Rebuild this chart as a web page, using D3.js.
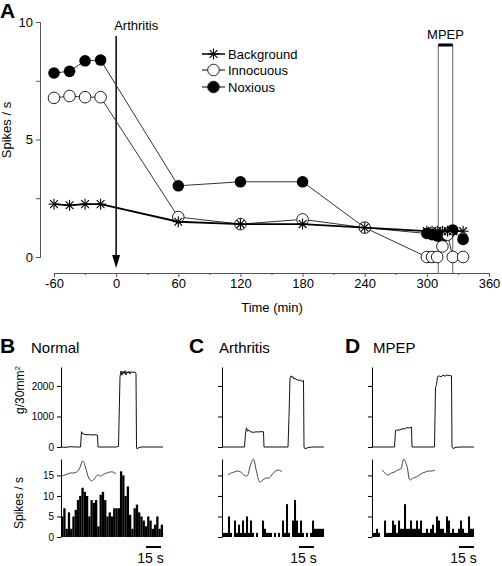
<!DOCTYPE html>
<html><head><meta charset="utf-8">
<script src="https://cdn.jsdelivr.net/npm/d3@7"></script>
<style>
body{margin:0;background:#fff}
svg{display:block}
text{font-family:"Liberation Sans",Arial,sans-serif;fill:#000}
</style>
</head><body>
<svg id="c" width="502" height="566"></svg>
<script>
// ---------- Panel A data ----------
const times      = [-60,-45,-30,-15,60,120,180,240,300,305,310,315,320,325,335];
const background = [2.25,2.2,2.25,2.25,1.5,1.4,1.4,1.25,1.1,1.1,1.1,1.1,1.1,1.1,1.1];
const innocuous  = [6.77,6.85,6.8,6.8,1.7,1.4,1.6,1.25,0,0,0,0.45,0.95,0,0];
const noxious    = [7.83,7.9,8.35,8.38,3.03,3.2,3.2,1.25,1.0,0.95,0.9,0.85,0.95,1.15,0.75];
const xTicks = [-60,0,60,120,180,240,300,360];
const yTicks = [0,5,10];
const arthritisTime = 0;
const mpepWindow = [311,325];

// ---------- Panels B, C, D data ----------
const panelNames = ["Normal","Arthritis","MPEP"];
const panelLetters = ["B","C","D"];
const forceTicks = [0,1000,2000];
const spikeTicks = [0,5,10,15];
// force traces: [time s, g/30mm2]
const forceB = [[0,0],[5,-10],[10,10],[15,0],[19.5,0],[20.5,500],[22,430],[25,400],[28,405],[31,395],[34,400],[36.5,390],[37,0],[45,0],[55,0],[57.5,20],[59,2300],[60,2490],[61,2350],[62,2480],[63,2400],[64,2500],[65,2360],[66,2470],[67,2420],[68,2480],[69,2390],[70,2470],[72,2440],[74,2460],[75,2400],[75.5,0],[76,-60],[78,-20],[80,0],[102,0]];
const forceC = [[0,0],[10,0],[22.5,0],[23.5,450],[24.5,630],[25.5,520],[27,560],[28,500],[30,490],[32,480],[34,500],[36,490],[38,500],[41.5,500],[42,0],[50,0],[66,0],[67,1000],[68,2250],[69,2330],[70,2280],[71,2300],[72,2220],[73,2250],[75,2200],[77,2180],[78,2200],[80,2150],[81.5,2180],[82,0],[83,-60],[86,-20],[90,0],[102,0]];
const forceD = [[0,0],[22.5,0],[23.5,540],[25,560],[27,550],[29,580],[31,600],[33,590],[35,640],[37,620],[39.5,650],[40,0],[50,0],[62.5,0],[63.5,1950],[64.5,2050],[65.5,2300],[67,2330],[69,2300],[71,2350],[73,2320],[75,2360],[77,2340],[79.5,2330],[80,0],[81,-50],[84,-10],[88,0],[102,0]];
// spike histograms (spikes/s per bin)
const spikesB = [5,7,2,6,2,5,6.6,9,10,12,11,10,5,9,8.3,9,2.6,10.3,11,9,5,6,5,7,7,7,16,15,10,12.3,5.4,2,7,7.9,6,5,4,2.6,5,4,2,3,5,2,3];
const spikesC = [1,1,1,5,1,0,4,1,3,1,4,1,5,1,4,1,0,1,0,0,4,2,1,1,1,0,1,0,1,0,4,1,8,1,0,4,9,4,1,4,1,0,1,0,1,4,2,2,2,2,2];
const spikesD = [1,1,2,1,0,0,4,1,1,1,4,3,1,4,2,2,8,2,2,4,2,2,4,2,4,1,1,2,1,2,3,1,5,4,2,2,1,5,4,1,2,1,1,2,4,2,1,1,5,2,2];
// spike waveform insets (arbitrary units)
const waveB = [0,1,2,3,3,4,8,15,8,-2,-5,-2,1,0,2,3,4,4,2];
const waveC = [1,3,4,5,4,1,0,10,17,4,-6,-4,-2,-2,2,5,6,4];
const waveD = [6,3,1,3,4,6,7,17,10,-4,-2,-1,1,3,4,5,5,6];
const scaleBarStart = [85,77,87];
const scaleBarLen = 15;

// ---------- drawing ----------
const svg = d3.select("#c");
const axisCol = "#555";
const plain = d => String(d);

// Panel A
const x = d3.scaleLinear().domain([-60,360]).range([54,489]);
const y = d3.scaleLinear().domain([0,10]).range([257,22]);

const gx = svg.append("g").attr("transform","translate(0,273)");
gx.call(d3.axisBottom(x).tickValues(xTicks).tickSize(4).tickSizeOuter(0).tickFormat(plain));
gx.append("g").call(d3.axisBottom(x).tickValues(d3.range(-30,360,60)).tickSize(2).tickFormat(""));
gx.selectAll("path,line").attr("stroke",axisCol);
gx.selectAll("text").attr("font-size",13).attr("dy","0.6em");

const gy = svg.append("g").attr("transform","translate(40,0)");
gy.call(d3.axisLeft(y).tickValues(yTicks).tickSize(4).tickSizeOuter(0).tickFormat(plain));
gy.append("g").call(d3.axisLeft(y).tickValues([2.5,7.5]).tickSize(4).tickFormat(""));
gy.selectAll("path,line").attr("stroke",axisCol);
gy.selectAll("text").attr("font-size",13);

svg.append("text").attr("x",272).attr("y",312).attr("text-anchor","middle").attr("font-size",13).text("Time (min)");
svg.append("text").attr("transform","translate(11,130) rotate(-90)").attr("text-anchor","middle").attr("font-size",13).text("Spikes / s");
svg.append("text").attr("x",0).attr("y",18).attr("font-size",21).attr("font-weight","bold").text("A");

// MPEP window
svg.append("line").attr("x1",x(mpepWindow[0])).attr("x2",x(mpepWindow[0])).attr("y1",45).attr("y2",273).attr("stroke","#666").attr("stroke-width",1);
svg.append("line").attr("x1",x(mpepWindow[1])).attr("x2",x(mpepWindow[1])).attr("y1",45).attr("y2",273).attr("stroke","#666").attr("stroke-width",1);
svg.append("line").attr("x1",x(mpepWindow[0])).attr("x2",x(mpepWindow[1])).attr("y1",45).attr("y2",45).attr("stroke","#000").attr("stroke-width",3);
svg.append("text").attr("x",(x(mpepWindow[0])+x(mpepWindow[1]))/2).attr("y",39).attr("text-anchor","middle").attr("font-size",13).text("MPEP");

// Arthritis arrow
const ax = x(arthritisTime);
svg.append("line").attr("x1",ax).attr("x2",ax).attr("y1",36).attr("y2",258).attr("stroke","#000").attr("stroke-width",1.5);
svg.append("path").attr("d",`M${ax-4},${255}L${ax+4},${255}L${ax},${268}Z`).attr("fill","#000");
svg.append("text").attr("x",ax-2).attr("y",30).attr("font-size",13).text("Arthritis");

const line = d3.line().x(d=>x(d[0])).y(d=>y(d[1]));
const zip = arr => times.map((t,i)=>[t,arr[i]]);

function star(g,cx,cy,r){
  for(const a of [0,45,90,135]){
    const rad=a*Math.PI/180;
    g.append("line").attr("x1",cx-r*Math.cos(rad)).attr("y1",cy-r*Math.sin(rad))
     .attr("x2",cx+r*Math.cos(rad)).attr("y2",cy+r*Math.sin(rad))
     .attr("stroke","#000").attr("stroke-width",1.1);
  }
}

// noxious (bottom), innocuous, background (top)
svg.append("path").datum(zip(noxious)).attr("d",line).attr("fill","none").attr("stroke","#333").attr("stroke-width",1);
svg.append("g").selectAll("circle").data(zip(noxious)).join("circle")
  .attr("cx",d=>x(d[0])).attr("cy",d=>y(d[1])).attr("r",5.8).attr("fill","#000");
svg.append("path").datum(zip(innocuous)).attr("d",line).attr("fill","none").attr("stroke","#333").attr("stroke-width",1);
svg.append("g").selectAll("circle").data(zip(innocuous)).join("circle")
  .attr("cx",d=>x(d[0])).attr("cy",d=>y(d[1])).attr("r",5.8).attr("fill","#fff").attr("stroke","#222").attr("stroke-width",1);
svg.append("path").datum(zip(background)).attr("d",line).attr("fill","none").attr("stroke","#000").attr("stroke-width",1.8);
const gs = svg.append("g");
zip(background).forEach(d=>star(gs,x(d[0]),y(d[1]),5.5));

// legend
const legend = [["Background","star"],["Innocuous","open"],["Noxious","filled"]];
const legY = [54,70,87];
legend.forEach((l,i)=>{
  const ly = legY[i];
  svg.append("line").attr("x1",202).attr("x2",225).attr("y1",ly).attr("y2",ly).attr("stroke","#000").attr("stroke-width",l[1]==="star"?1.5:1);
  if(l[1]==="star") star(svg,213.5,ly,5.5);
  else svg.append("circle").attr("cx",213.5).attr("cy",ly).attr("r",5.8).attr("fill",l[1]==="open"?"#fff":"#000").attr("stroke","#222");
  svg.append("text").attr("x",228).attr("y",ly+5).attr("font-size",13).text(l[0]);
});

// Panels B, C, D
const panelX = [61,222,372];
const forces = [forceB,forceC,forceD];
const spikes = [spikesB,spikesC,spikesD];
const waves = [waveB,waveC,waveD];
const waveSpan = [[0.5,55],[6,60],[10,63]];
const fy = d3.scaleLinear().domain([0,2620]).range([447,367]);
const sy = d3.scaleLinear().domain([0,19]).range([537,459]);
const wy = d3.scaleLinear().domain([-10,20]).range([486,456]);

panelX.forEach((px,p)=>{
  const tx = d3.scaleLinear().domain([0,102]).range([px,px+102]);
  svg.append("text").attr("x",[0,189,345][p]).attr("y",353).attr("font-size",21).attr("font-weight","bold").text(panelLetters[p]);
  svg.append("text").attr("x",[31,219,373][p]).attr("y",353).attr("font-size",15).text(panelNames[p]);
  const ga = svg.append("g").attr("transform",`translate(${px},0)`)
    .call(d3.axisLeft(fy).tickValues(forceTicks).tickSize(4).tickSizeOuter(0).tickFormat(p===0?plain:""));
  ga.selectAll("text").attr("font-size",10);
  svg.append("path").datum(forces[p]).attr("d",d3.line().x(d=>tx(d[0])).y(d=>fy(d[1])))
    .attr("fill","none").attr("stroke","#111").attr("stroke-width",1);
  const gb = svg.append("g").attr("transform",`translate(${px},0)`)
    .call(d3.axisLeft(sy).tickValues(spikeTicks).tickSize(4).tickSizeOuter(0).tickFormat(p===0?plain:""));
  gb.selectAll("text").attr("font-size",10);
  const data = spikes[p];
  const bw = 102/data.length;
  svg.append("g").selectAll("rect").data(data).join("rect")
    .attr("x",(d,i)=>tx(i*bw)).attr("width",bw*1.02)
    .attr("y",d=>sy(d)).attr("height",d=>sy(0)-sy(d)).attr("fill","#000");
  const w = waves[p];
  const wx = d3.scaleLinear().domain([0,w.length-1]).range([tx(waveSpan[p][0]),tx(waveSpan[p][1])]);
  svg.append("path").datum(w).attr("d",d3.line().x((d,i)=>wx(i)).y(d=>wy(d)).curve(d3.curveCatmullRom))
    .attr("fill","none").attr("stroke","#444").attr("stroke-width",1);
  const s0 = scaleBarStart[p];
  svg.append("line").attr("x1",tx(s0)).attr("x2",tx(s0+scaleBarLen)).attr("y1",547).attr("y2",547).attr("stroke","#000").attr("stroke-width",2);
  svg.append("text").attr("x",(tx(s0)+tx(s0+scaleBarLen))/2-3).attr("y",563).attr("text-anchor","middle").attr("font-size",14).text("15 s");
});

svg.append("text").attr("transform","translate(24,390) rotate(-90)").attr("text-anchor","middle").attr("font-size",12)
  .html('g/30mm<tspan dy="-4" font-size="8">2</tspan>');
svg.append("text").attr("transform","translate(23,503) rotate(-90)").attr("text-anchor","middle").attr("font-size",12).text("Spikes / s");
</script>
</body></html>
